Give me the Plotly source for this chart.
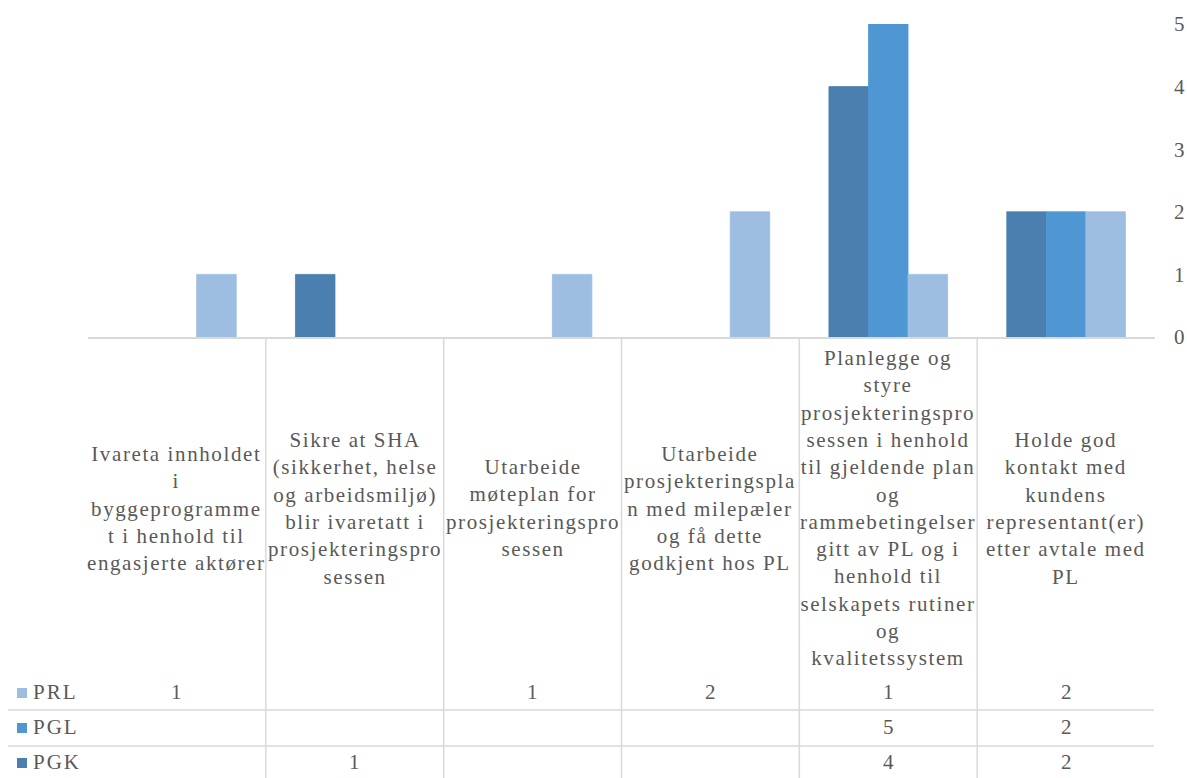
import plotly.graph_objects as go

W, H = 1187, 778

categories = [
    "Ivareta innholdet<br>i<br>byggeprogramme<br>t i henhold til<br>engasjerte aktører",
    "Sikre at SHA<br>(sikkerhet, helse<br>og arbeidsmiljø)<br>blir ivaretatt i<br>prosjekteringspro<br>sessen",
    "Utarbeide<br>møteplan for<br>prosjekteringspro<br>sessen",
    "Utarbeide<br>prosjekteringspla<br>n med milepæler<br>og få dette<br>godkjent hos PL",
    "Planlegge og<br>styre<br>prosjekteringspro<br>sessen i henhold<br>til gjeldende plan<br>og<br>rammebetingelser<br>gitt av PL og i<br>henhold til<br>selskapets rutiner<br>og<br>kvalitetssystem",
    "Holde god<br>kontakt med<br>kundens<br>representant(er)<br>etter avtale med<br>PL",
]
series_names = ["PGK", "PGL", "PRL"]
PGK = [None, 1, None, None, 4, 2]
PGL = [None, None, None, None, 5, 2]
PRL = [1, None, 1, 2, 1, 2]
colors = {"PGK": "#4A7FAF", "PGL": "#4F97D3", "PRL": "#9DBEE0"}
y_ticks = [0, 1, 2, 3, 4, 5]

values = {"PGK": PGK, "PGL": PGL, "PRL": PRL}
xs = list(range(len(categories)))

FONT = "'Liberation Serif', 'Times New Roman', Times, serif"
TXT = "#595959"
GRID = "#D9D9D9"

def py(y):
    return 1 - y / H

def px(x):
    return x / W

def spaced(text, ls=1.6):
    return "<br>".join(
        f'<span style="letter-spacing:{ls}px">{line}</span>' for line in text.split("<br>")
    )

fig = go.Figure()
for name in series_names:
    fig.add_trace(go.Bar(
        x=xs, y=values[name], name=name,
        marker=dict(color=colors[name], line=dict(color=colors[name], width=0.8)),
        showlegend=False,
    ))

annotations = []
shapes = []

# category labels
for i, c in enumerate(categories):
    annotations.append(dict(
        x=i, xref="x", y=py(508), yref="paper", text=spaced(c), showarrow=False,
        xanchor="center", yanchor="middle", align="center",
        font=dict(family=FONT, size=21, color=TXT),
    ))

# data table rows
rows = [("PRL", 692, 688), ("PGL", 727, 723), ("PGK", 762, 758)]
for name, yc, ysq in rows:
    vals = values[name]
    for i, v in enumerate(vals):
        if v is not None:
            annotations.append(dict(
                x=i, xref="x", y=py(yc), yref="paper", text=str(v), showarrow=False,
                xanchor="center", yanchor="middle",
                font=dict(family=FONT, size=21, color=TXT),
            ))
    annotations.append(dict(
        x=px(31), xref="paper", y=py(yc), yref="paper", text=spaced(name, 2), showarrow=False,
        xanchor="left", yanchor="middle",
        font=dict(family=FONT, size=21, color=TXT),
    ))
    shapes.append(dict(
        type="rect", xref="paper", yref="paper",
        x0=px(17), x1=px(27), y0=py(ysq + 10), y1=py(ysq),
        fillcolor=colors[name], line=dict(width=0),
    ))

# vertical table lines at category boundaries
for b in range(len(categories) - 1):
    shapes.append(dict(
        type="line", xref="x", yref="paper",
        x0=b + 0.5, x1=b + 0.5, y0=0, y1=py(337),
        line=dict(color=GRID, width=1.5),
    ))
# horizontal row lines
for yl in (710, 746):
    shapes.append(dict(
        type="line", xref="paper", yref="paper",
        x0=px(8), x1=px(1154), y0=py(yl), y1=py(yl),
        line=dict(color=GRID, width=1.5),
    ))

fig.update_layout(
    width=W, height=H,
    margin=dict(l=0, r=0, t=0, b=0, autoexpand=False),
    paper_bgcolor="white", plot_bgcolor="white",
    font=dict(family=FONT, color=TXT),
    barmode="group", bargap=0.333, bargroupgap=0,
    xaxis=dict(
        domain=[px(88), px(1155)], range=[-0.5, len(categories) - 0.5],
        showticklabels=False, showgrid=False, zeroline=False,
        showline=True, linecolor=GRID, linewidth=1.5, ticks="",
        anchor="y", fixedrange=True, automargin=False,
    ),
    yaxis=dict(
        domain=[py(337), py(24)], range=[0, 5], side="right",
        tickvals=y_ticks, ticktext=[str(t) for t in y_ticks],
        showgrid=False, zeroline=False, showline=False, ticks="",
        tickfont=dict(family=FONT, size=21, color=TXT),
        ticklabelstandoff=18, anchor="x", automargin=False,
    ),
    annotations=annotations,
    shapes=shapes,
)

fig.write_html("out.html")
